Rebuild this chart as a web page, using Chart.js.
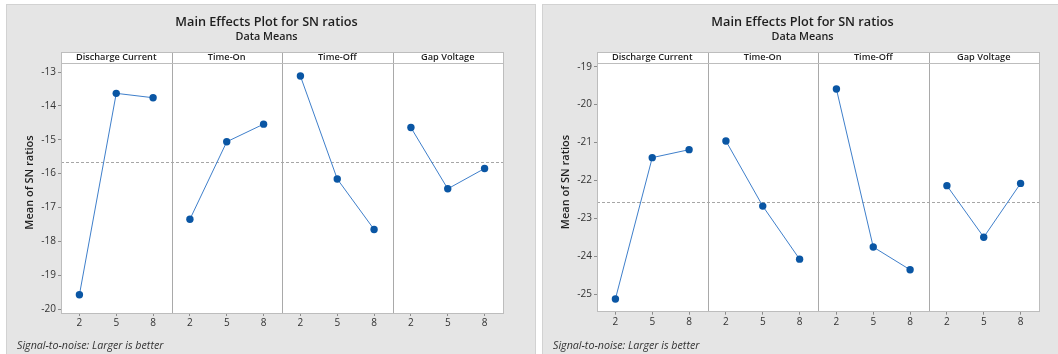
<!DOCTYPE html>
<html>
<head>
<meta charset="utf-8">
<title>Main Effects Plot for SN ratios</title>
<script src="https://cdn.jsdelivr.net/npm/chart.js@4.4.1/dist/chart.umd.min.js"></script>
<style>
  html, body { margin: 0; padding: 0; background: #ffffff; width: 1058px; height: 354px; overflow: hidden; position: relative; }
  .frame { position: absolute; top: 4px; height: 360px; width: 530px; background: #e5e5e5; border: 1px solid #d2d2d2; box-sizing: border-box; }
  #frameA { left: 6px; }
  #frameB { left: 542px; }
  canvas { position: absolute; top: 4px; }
  #chartA { left: 6px; }
  #chartB { left: 542px; }
</style>
</head>
<body>
<div class="frame" id="frameA"></div>
<div class="frame" id="frameB"></div>
<canvas id="chartA" width="521" height="350"></canvas>
<canvas id="chartB" width="521" height="350"></canvas>
<script>
// Factors and their levels (shared by both plots)
const factors = ['Discharge Current', 'Time-On', 'Time-Off', 'Gap Voltage'];
const levels = ['2', '5', '8'];

// Plot A: mean SN ratio at each level
const dischargeA = [-19.58, -13.63, -13.76];
const timeOnA    = [-17.35, -15.06, -14.54];
const timeOffA   = [-13.12, -16.16, -17.65];
const gapA       = [-14.64, -16.45, -15.85];
const yTicksA    = [-20, -19, -18, -17, -16, -15, -14, -13];

// Plot B: mean SN ratio at each level
const dischargeB = [-25.13, -21.40, -21.19];
const timeOnB    = [-20.96, -22.68, -24.08];
const timeOffB   = [-19.59, -23.76, -24.36];
const gapB       = [-22.14, -23.50, -22.08];
const yTicksB    = [-25, -24, -23, -22, -21, -20, -19];

// Text shown on every plot
const plotTitle = 'Main Effects Plot for SN ratios';
const plotSubtitle = 'Data Means';
const yTitle = 'Mean of SN ratios';
const footNote = 'Signal-to-noise: Larger is better';

const FONT = "'Open Sans', 'Noto Sans', sans-serif";
const LINE_BLUE = '#3f7fcb';
const DOT_BLUE = '#0a56a4';
const STRIP_H = 11;

// Grand mean over all levels of all factors (reference line)
function grandMean(series) {
  let sum = 0, n = 0;
  series.forEach(s => s.forEach(v => { sum += v; n++; }));
  return sum / n;
}

// Titles, frame, panel dividers, factor strips, reference line and footer note
const panelPlugin = {
  id: 'panels',
  beforeDraw(chart) {
    const { ctx, chartArea: a } = chart;
    ctx.save();
    ctx.fillStyle = '#ffffff';
    ctx.fillRect(a.left, a.top - STRIP_H, a.right - a.left, a.bottom - a.top + STRIP_H);
    ctx.restore();
  },
  beforeDatasetsDraw(chart, args, opts) {
    const { ctx, chartArea: a, scales } = chart;
    ctx.save();
    // reference line at the grand mean
    const yRef = Math.round(scales.y.getPixelForValue(opts.mean)) + 0.5;
    ctx.strokeStyle = '#a6a6a6';
    ctx.lineWidth = 1;
    ctx.setLineDash([3, 2]);
    ctx.beginPath();
    ctx.moveTo(a.left, yRef);
    ctx.lineTo(a.right, yRef);
    ctx.stroke();
    ctx.setLineDash([]);
    // dividers between factor panels
    ctx.strokeStyle = '#a9a9a9';
    for (let i = 0; i < factors.length - 1; i++) {
      const x = Math.round(scales['x' + i].right) + 0.5;
      ctx.beginPath();
      ctx.moveTo(x, a.top - STRIP_H);
      ctx.lineTo(x, a.bottom);
      ctx.stroke();
    }
    // outer frame of the plotting region and strip under-line
    ctx.strokeStyle = '#bdbdbd';
    ctx.strokeRect(Math.round(a.left) + 0.5, Math.round(a.top - STRIP_H) + 0.5,
                   Math.round(a.right - a.left), Math.round(a.bottom - a.top + STRIP_H));
    ctx.beginPath();
    ctx.moveTo(a.left, Math.round(a.top) + 0.5);
    ctx.lineTo(a.right, Math.round(a.top) + 0.5);
    ctx.stroke();
    // factor names in the strips
    ctx.fillStyle = '#1e1e1e';
    ctx.font = `600 9.2px ${FONT}`;
    ctx.textAlign = 'center';
    ctx.textBaseline = 'middle';
    factors.forEach((name, i) => {
      const s = scales['x' + i];
      ctx.fillText(name, (s.left + s.right) / 2, a.top - STRIP_H / 2);
    });
    ctx.restore();
  },
  afterDraw(chart, args, opts) {
    const { ctx, chartArea: a } = chart;
    ctx.save();
    ctx.fillStyle = '#1e1e1e';
    ctx.textAlign = 'center';
    ctx.textBaseline = 'middle';
    ctx.font = `600 12.7px ${FONT}`;
    ctx.fillText(plotTitle, 260.5, 18.7);
    ctx.font = `600 10.8px ${FONT}`;
    ctx.fillText(plotSubtitle, 260.5, 32.7);
    // vertical axis title
    ctx.save();
    ctx.translate(24, (a.top - STRIP_H + a.bottom) / 2);
    ctx.rotate(-Math.PI / 2);
    ctx.font = `600 11px ${FONT}`;
    ctx.fillText(yTitle, 0, 0);
    ctx.restore();
    // footer note
    ctx.fillStyle = '#333333';
    ctx.font = `italic 10.7px ${FONT}`;
    ctx.textAlign = 'left';
    ctx.fillText(footNote, 11, 342);
    ctx.restore();
  }
};

function buildChart(canvasId, series, yTicks, yMin, yMax, topPad, bottomPad) {
  const scales = {};
  factors.forEach((f, i) => {
    scales['x' + i] = {
      type: 'category',
      labels: levels,
      position: 'bottom',
      stack: 'factors',
      offset: true,
      border: { display: false },
      grid: { display: true, drawOnChartArea: false, drawTicks: true, tickLength: 3, color: '#8c8c8c', offset: false },
      ticks: { font: { family: FONT, size: 10 }, color: '#333333', padding: 1, maxRotation: 0, autoSkip: false },
      afterFit(s) { s.height = 24; }
    };
  });
  scales.y = {
    type: 'linear',
    position: 'left',
    min: yMin,
    max: yMax,
    afterBuildTicks(s) { s.ticks = yTicks.map(v => ({ value: v })); },
    afterFit(s) { s.width = 55; },
    border: { display: false },
    grid: { drawOnChartArea: false, drawTicks: true, tickLength: 3, color: '#8c8c8c' },
    ticks: { font: { family: FONT, size: 10 }, color: '#333333', padding: 2 }
  };

  return new Chart(document.getElementById(canvasId), {
    type: 'line',
    data: {
      datasets: series.map((values, i) => ({
        label: factors[i],
        data: values,
        xAxisID: 'x' + i,
        yAxisID: 'y',
        borderColor: LINE_BLUE,
        borderWidth: 1,
        backgroundColor: DOT_BLUE,
        pointBackgroundColor: DOT_BLUE,
        pointBorderColor: DOT_BLUE,
        pointRadius: 3.7,
        pointBorderWidth: 0,
        tension: 0,
        clip: false
      }))
    },
    options: {
      responsive: false,
      animation: false,
      events: [],
      layout: { padding: { left: 0, right: 24, top: topPad, bottom: bottomPad } },
      scales,
      plugins: {
        legend: { display: false },
        tooltip: { enabled: false },
        title: { display: false },
        panels: { mean: grandMean(series) }
      }
    },
    plugins: [panelPlugin]
  });
}

buildChart('chartA', [dischargeA, timeOnA, timeOffA, gapA], yTicksA, -20.118, -12.734, 59, 17);
buildChart('chartB', [dischargeB, timeOnB, timeOffB, gapB], yTicksB, -25.467, -18.91, 59.3, 18.3);
</script>
</body>
</html>
